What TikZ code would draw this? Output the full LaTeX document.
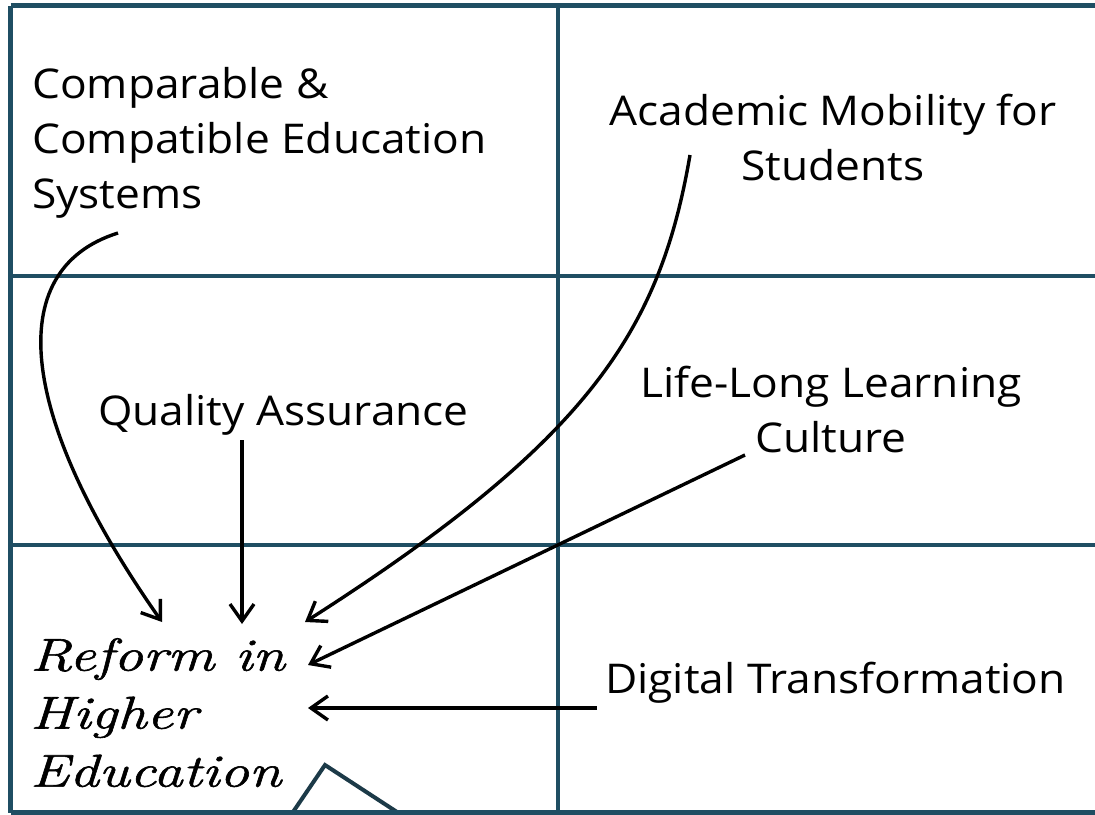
\documentclass[tikz,border=0pt]{standalone}
\usepackage{fontspec}
\usetikzlibrary{arrows.meta}
\newfontfamily\labelfont[FakeStretch=1.08]{Open Sans}
\newfontfamily\reformfont[FakeStretch=1.28,FakeBold=1.3]{Latin Modern Roman}
\definecolor{gridc}{RGB}{31,78,99}
\definecolor{trianglec}{RGB}{28,58,72}
\tikzset{
  gridline/.style={draw=gridc, line width=4.5pt},
  lbl/.style={inner sep=0pt, font={\labelfont\fontsize{41}{55}\selectfont}, text=black},
  reformtxt/.style={inner sep=0pt, align=left, font={\reformfont\itshape\fontsize{46}{58}\selectfont}, text=black},
  arr/.style={draw=black, line width=3.4pt, -{Straight Barb[length=17pt,width=24pt,line width=3.4pt]}}
}
\begin{document}
\begin{tikzpicture}[x=1pt,y=-1pt]
\useasboundingbox (0,0) rectangle (1095,814);
\fill[white] (0,0) rectangle (1095,814);
% grid
\draw[gridline] (10.5,5.5) -- (1095,5.5);
\draw[gridline] (10.5,5.5) -- (10.5,812.5);
\draw[gridline] (558,5.5) -- (558,812.5);
\draw[gridline] (10.5,276) -- (1095,276);
\draw[gridline] (10.5,545) -- (1095,545);
\draw[trianglec, line width=4pt] (293,812) -- (325,765) -- (397,812);
\draw[gridline] (10.5,812.5) -- (1095,812.5);
% labels
\node[lbl, anchor=north west, align=left] (comp) at (32,67) {Comparable \&\\Compatible Education\\Systems};
\node[lbl, anchor=north, align=center] (acad) at (833,94) {Academic Mobility for\\Students};
\node[lbl, anchor=north west] (qa) at (98,394) {Quality Assurance};
\node[lbl, anchor=north, align=center] (life) at (831,366) {Life-Long Learning\\Culture};
\node[lbl, anchor=north west] (dig) at (605,662) {Digital Transformation};
\node[reformtxt, anchor=north west] (reform) at (30,638) {Reform in\\Higher\\Education};
% connector ends
\coordinate (compS) at (118,233);
\coordinate (compE) at (162,622);
\coordinate (qaS) at (242,440);
\coordinate (qaE) at (242,624);
\coordinate (acadS) at (690,155);
\coordinate (acadE) at (305,622);
\coordinate (lifeS) at (745,455);
\coordinate (lifeE) at (308,665);
\coordinate (digS) at (597,708);
\coordinate (digE) at (308,708);
% connectors
\draw[arr] (compS) .. controls (0,270) and (20,420) .. (compE);
\draw[arr] (qaS) -- (qaE);
\draw[arr] (acadS) .. controls (660,330) and (590,440) .. (acadE);
\draw[arr] (lifeS) -- (lifeE);
\draw[arr] (digS) -- (digE);
\end{tikzpicture}
\end{document}
